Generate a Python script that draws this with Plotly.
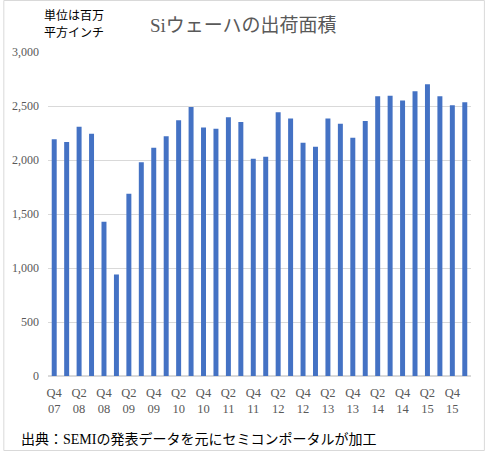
import plotly.graph_objects as go

quarters = ["Q4 07","Q1 08","Q2 08","Q3 08","Q4 08","Q1 09","Q2 09","Q3 09","Q4 09",
            "Q1 10","Q2 10","Q3 10","Q4 10","Q1 11","Q2 11","Q3 11","Q4 11",
            "Q1 12","Q2 12","Q3 12","Q4 12","Q1 13","Q2 13","Q3 13","Q4 13",
            "Q1 14","Q2 14","Q3 14","Q4 14","Q1 15","Q2 15","Q3 15","Q4 15","Q1 16"]
area = [2191, 2166, 2307, 2243, 1429, 940, 1687, 1979, 2113,
        2221, 2369, 2491, 2301, 2289, 2396, 2353, 2012,
        2030, 2441, 2385, 2160, 2123, 2385, 2336, 2206,
        2361, 2590, 2596, 2550, 2636, 2701, 2590, 2506, 2534]
tick_idx = list(range(0, len(quarters), 2))
tick_text = [quarters[i].replace(" ", "<br>") for i in tick_idx]
y_ticks = [0, 500, 1000, 1500, 2000, 2500, 3000]

serif = "Liberation Serif, Times New Roman, Noto Sans CJK JP"
gray = "#595959"
L, R, T, B = 45, 14, 52, 75
W, H = 485, 451
pw, ph = W - L - R, H - T - B

fig = go.Figure(go.Bar(x=list(range(len(quarters))), y=area,
                       marker=dict(color="#4472C4", line=dict(width=0))))

fig.update_layout(
    width=W, height=H,
    margin=dict(l=L, r=R, t=T, b=B),
    paper_bgcolor="white", plot_bgcolor="white",
    bargap=0.6, showlegend=False,
    font=dict(family=serif, color=gray, size=12),
)
fig.update_xaxes(range=[-0.5, len(quarters) - 0.5], tickmode="array",
                 tickvals=tick_idx, ticktext=tick_text, showgrid=False,
                 showline=False, zeroline=False, ticks="", ticklabelstandoff=7,
                 tickfont=dict(family=serif, size=12.5, color=gray))
fig.update_yaxes(range=[0, 3000], tickmode="array", tickvals=y_ticks,
                 tickformat=",", showgrid=True, gridcolor="#d9d9d9",
                 gridwidth=1, zeroline=True, zerolinecolor="#d9d9d9",
                 showline=False, ticks="", ticklabelstandoff=8,
                 tickfont=dict(family=serif, size=12, color=gray))

def px_x(x):
    return (x - L) / pw

def px_y(y):
    return 1 - (y - T) / ph

fig.add_annotation(text="Siウェーハの出荷面積", xref="paper", yref="paper",
                   x=px_x(241), y=px_y(25), xanchor="center", yanchor="middle",
                   showarrow=False, font=dict(family=serif, size=19, color=gray))
fig.add_annotation(text="単位は百万", xref="paper", yref="paper",
                   x=px_x(39), y=px_y(15), xanchor="left", yanchor="middle",
                   showarrow=False,
                   font=dict(family="Noto Sans CJK JP", size=12, color="#000000"))
fig.add_annotation(text="平方インチ", xref="paper", yref="paper",
                   x=px_x(39), y=px_y(32), xanchor="left", yanchor="middle",
                   showarrow=False,
                   font=dict(family="Noto Sans CJK JP", size=12, color="#000000"))
fig.add_annotation(text="出典：SEMIの発表データを元にセミコンポータルが加工",
                   xref="paper", yref="paper", x=px_x(16), y=px_y(439),
                   xanchor="left", yanchor="middle", showarrow=False,
                   font=dict(family=serif, size=14, color="#000000"))
fig.add_shape(type="rect", xref="paper", yref="paper",
              x0=px_x(0.5), x1=px_x(W - 0.5), y0=px_y(H - 0.5), y1=px_y(0.5),
              line=dict(color="#d9d9d9", width=1), fillcolor="rgba(0,0,0,0)")

fig.write_html("out.html", config={"displayModeBar": False},
               post_script="document.body.style.margin='0';")
